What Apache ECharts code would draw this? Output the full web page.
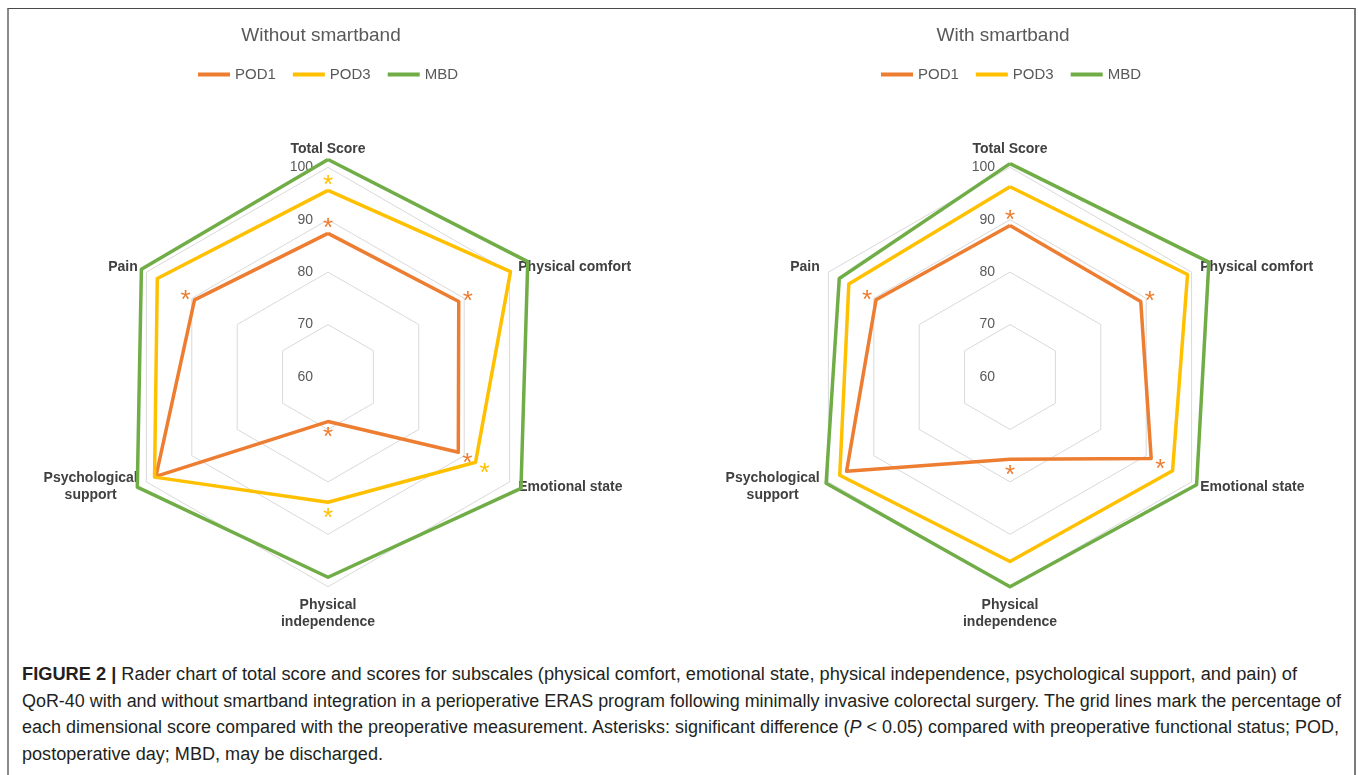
<!DOCTYPE html>
<html>
<head>
<meta charset="utf-8">
<script src="https://cdn.jsdelivr.net/npm/echarts@6/dist/echarts.min.js"></script>
<style>
html,body{margin:0;padding:0;background:#fff;width:1358px;height:775px;overflow:hidden;}
#frame{position:absolute;left:7px;top:8px;width:1345px;height:790px;border-top:1px solid #4a4a4a;border-left:2px solid #8a8a8a;border-right:2px solid #7a7a7a;}
#chart{position:absolute;left:0;top:0;width:1358px;height:645px;}
#cap{position:absolute;left:22px;top:661px;font-family:"Liberation Sans",Arial,sans-serif;font-size:18px;line-height:26.6px;color:#231f20;white-space:nowrap;}
#cap div{display:block;}
#cap span.l{display:inline-block;transform-origin:0 50%;}
</style>
</head>
<body>
<div id="frame"></div>
<div id="chart"></div>
<div id="cap">
<div><span class="l" data-w="1275"><b>FIGURE 2 |</b> Rader chart of total score and scores for subscales (physical comfort, emotional state, physical independence, psychological support, and pain) of</span></div>
<div><span class="l" data-w="1319">QoR-40 with and without smartband integration in a perioperative ERAS program following minimally invasive colorectal surgery. The grid lines mark the percentage of</span></div>
<div><span class="l" data-w="1317">each dimensional score compared with the preoperative measurement. Asterisks: significant difference (<i>P</i> &lt; 0.05) compared with preoperative functional status; POD,</span></div>
<div><span class="l" data-w="361">postoperative day; MBD, may be discharged.</span></div>
</div>
<script>
// ---- data (indicator order: counter-clockwise from the top) ----
const indicators = ['Total Score', 'Pain', 'Psychological\nsupport', 'Physical\nindependence', 'Emotional state', 'Physical comfort'];
const axisMin = 60;
const axisMax = 100;
const seriesNames = ['POD1', 'POD3', 'MBD'];

const withoutPOD1 = [87.4, 89.4, 97.9, 68.5, 88.7, 88.8];
const withoutPOD3 = [95.6, 97.6, 98.2, 83.9, 92.5, 100.2];
const withoutMBD  = [101.5, 101.1, 102.0, 98.2, 102.5, 104.0];
const withoutSigPOD1 = [1, 1, 0, 1, 1, 1];
const withoutSigPOD3 = [1, 0, 0, 1, 1, 0];

const withPOD1 = [88.9, 89.5, 96.0, 75.7, 91.1, 88.8];
const withPOD3 = [96.3, 95.5, 97.5, 95.2, 95.8, 99.1];
const withMBD  = [100.7, 97.6, 100.5, 100.0, 101.1, 103.8];
const withSigPOD1 = [1, 1, 0, 1, 1, 1];

const titles = ['Without smartband', 'With smartband'];

// ---- styles ----
const COLORS = {POD1: '#ED7D31', POD3: '#FFC000', MBD: '#70AD47'};
const STAR_GAP = 2;
const FONT = '"Liberation Sans", Arial, sans-serif';
const AXIS_LABEL = {color: '#595959', fontSize: 14, margin: 15, align: 'right', verticalAlign: 'middle', fontFamily: FONT};

function radarCfg(cx) {
  return {
    center: [cx, 377],
    radius: 209.7,
    startAngle: 90,
    shape: 'polygon',
    splitNumber: 4,
    nameGap: 10,
    indicator: indicators.map((n, i) => {
      const o = {name: n, min: axisMin, max: axisMax};
      if (i === 0) o.axisLabel = Object.assign({show: true}, AXIS_LABEL);
      return o;
    }),
    axisName: {
      formatter: v => v.split('\n').map(s => '{c|' + s + '}').join('\n'),
      rich: {c: {align: 'center', fontFamily: FONT, fontSize: 14, fontWeight: 'bold', color: '#404040', lineHeight: 17}}
    },
    splitLine: {lineStyle: {color: '#d9d9d9', width: 1}},
    splitArea: {show: false},
    axisLine: {show: false},
    axisTick: {show: false},
    axisLabel: Object.assign({show: false}, AXIS_LABEL)
  };
}

function lineSeries(ri, name, values) {
  return {
    type: 'radar', radarIndex: ri, name: name, symbol: 'none', silent: true,
    lineStyle: {color: COLORS[name], width: 3.5},
    itemStyle: {color: COLORS[name]},
    data: [{value: values, name: name}]
  };
}
function starSeries(ri, name, values, flags) {
  return {
    type: 'radar', radarIndex: ri, name: name + '*', symbol: 'circle', symbolSize: 1, silent: true,
    lineStyle: {opacity: 0, width: 0},
    itemStyle: {color: 'rgba(0,0,0,0)'},
    label: {
      show: true, position: 'inside', offset: [0, 6],
      formatter: p => (flags[p.dimensionIndex] ? '*' : ''),
      color: COLORS[name], fontSize: 26, fontFamily: FONT
    },
    data: [{value: values.map(v => v + STAR_GAP)}]
  };
}

const legendBase = {
  orient: 'horizontal', top: 62, icon: 'rect', itemWidth: 32, itemHeight: 4, itemGap: 17,
  data: seriesNames, selectedMode: false,
  textStyle: {color: '#595959', fontSize: 15, fontFamily: FONT}
};

const option = {
  animation: false,
  title: [
    {text: titles[0], left: 321, top: 26, textAlign: 'center', padding: 0,
     textStyle: {fontSize: 19, fontWeight: 'normal', color: '#595959', fontFamily: FONT}},
    {text: titles[1], left: 1003, top: 26, textAlign: 'center', padding: 0,
     textStyle: {fontSize: 19, fontWeight: 'normal', color: '#595959', fontFamily: FONT}}
  ],
  legend: [
    Object.assign({}, legendBase, {left: 193}),
    Object.assign({}, legendBase, {left: 876})
  ],
  radar: [radarCfg(328), radarCfg(1010)],
  series: [
    lineSeries(0, 'POD1', withoutPOD1),
    lineSeries(0, 'POD3', withoutPOD3),
    lineSeries(0, 'MBD', withoutMBD),
    starSeries(0, 'POD1', withoutPOD1, withoutSigPOD1),
    starSeries(0, 'POD3', withoutPOD3, withoutSigPOD3),
    lineSeries(1, 'POD1', withPOD1),
    lineSeries(1, 'POD3', withPOD3),
    lineSeries(1, 'MBD', withMBD),
    starSeries(1, 'POD1', withPOD1, withSigPOD1)
  ]
};

const chart = echarts.init(document.getElementById('chart'), null, {renderer: 'canvas'});
chart.setOption(option);

// fit caption lines to their measured widths in the reference
document.querySelectorAll('#cap span.l').forEach(s => {
  const w = s.getBoundingClientRect().width;
  const target = +s.getAttribute('data-w');
  if (w > 0) s.style.transform = 'scaleX(' + (target / w) + ')';
});
</script>
</body>
</html>
